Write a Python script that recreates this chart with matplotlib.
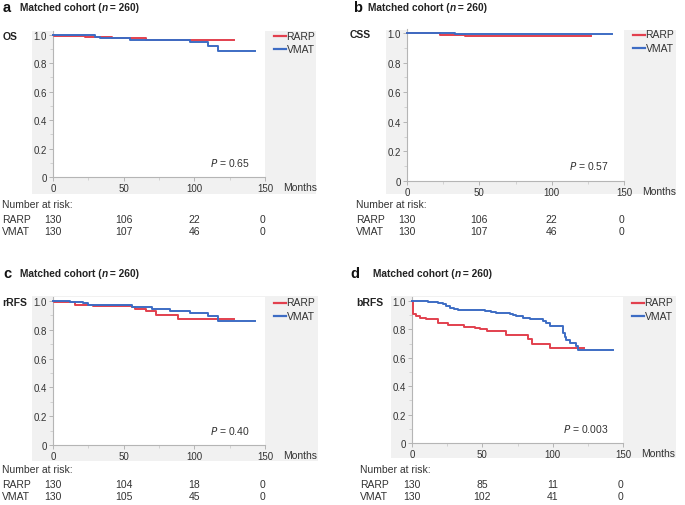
import matplotlib
matplotlib.use("Agg")
import matplotlib.pyplot as plt
from matplotlib.patches import Rectangle
import matplotlib.transforms as mtransforms

plt.rcParams['font.family'] = ['Liberation Sans', 'DejaVu Sans']

W, H = 685, 506
RED = '#e2404e'
BLUE = '#3d6cc4'
TXT = '#333333'

# ---------------- data ----------------
panel_letters = ['a', 'b', 'c', 'd']
endpoints = ['OS', 'CSS', 'rRFS', 'bRFS']
p_values = ['0.65', '0.57', '0.40', '0.003']
groups = ['RARP', 'VMAT']
x_ticks = [0, 50, 100, 150]
y_ticks = [0, 0.2, 0.4, 0.6, 0.8, 1.0]
y_tick_labels = ['0', '0.2', '0.4', '0.6', '0.8', '1.0']

os_rarp_t = [0, 1, 22.6, 41.5, 66, 128]
os_rarp_s = [1.0, 0.992, 0.984, 0.976, 0.965, 0.965]
os_vmat_t = [0, 25, 30, 33, 54.5, 97, 109.5, 116.5, 143]
os_vmat_s = [1.0, 0.995, 0.985, 0.975, 0.965, 0.95, 0.92, 0.885, 0.885]

css_rarp_t = [0, 22.6, 40, 127]
css_rarp_s = [1.0, 0.987, 0.98, 0.98]
css_vmat_t = [0, 33, 142]
css_vmat_s = [1.0, 0.993, 0.993]

rrfs_rarp_t = [0, 1, 15.5, 28, 55.7, 58, 66, 73, 88.5, 128]
rrfs_rarp_s = [1.0, 0.99, 0.97, 0.962, 0.956, 0.943, 0.929, 0.90, 0.876, 0.876]
rrfs_vmat_t = [0, 12, 21.5, 25, 55.7, 70, 83, 97, 109.5, 116.5, 143]
rrfs_vmat_s = [1.0, 0.993, 0.984, 0.97, 0.96, 0.947, 0.933, 0.917, 0.897, 0.86, 0.86]

brfs_rarp_t = [0, 0.8, 3, 6, 10, 18.5, 25.6, 37, 44.5, 48, 53, 67, 82.5, 85, 98, 122]
brfs_rarp_s = [1.0, 0.906, 0.894, 0.882, 0.871, 0.842, 0.828, 0.819, 0.812, 0.805,
               0.788, 0.758, 0.73, 0.70, 0.668, 0.668]
brfs_vmat_t = [0, 11.4, 18.5, 22, 24.4, 26.8, 30, 32.7, 51.7, 56.4, 60, 69.4, 71.8, 74,
               79, 83.6, 93, 95.5, 98, 107.3, 108.5, 109.7, 112, 116.8, 118, 143]
brfs_vmat_s = [1.0, 0.993, 0.984, 0.976, 0.965, 0.953, 0.946, 0.936, 0.927, 0.922, 0.918,
               0.91, 0.90, 0.894, 0.882, 0.87, 0.86, 0.842, 0.824, 0.776, 0.748, 0.725,
               0.706, 0.682, 0.654, 0.654]

risk_os_rarp = [130, 106, 22, 0]
risk_os_vmat = [130, 107, 46, 0]
risk_css_rarp = [130, 106, 22, 0]
risk_css_vmat = [130, 107, 46, 0]
risk_rrfs_rarp = [130, 104, 18, 0]
risk_rrfs_vmat = [130, 105, 45, 0]
risk_brfs_rarp = [130, 85, 11, 0]
risk_brfs_vmat = [130, 102, 41, 0]

curves = [
    ((os_rarp_t, os_rarp_s), (os_vmat_t, os_vmat_s)),
    ((css_rarp_t, css_rarp_s), (css_vmat_t, css_vmat_s)),
    ((rrfs_rarp_t, rrfs_rarp_s), (rrfs_vmat_t, rrfs_vmat_s)),
    ((brfs_rarp_t, brfs_rarp_s), (brfs_vmat_t, brfs_vmat_s)),
]
risks = [
    (risk_os_rarp, risk_os_vmat),
    (risk_css_rarp, risk_css_vmat),
    (risk_rrfs_rarp, risk_rrfs_vmat),
    (risk_brfs_rarp, risk_brfs_vmat),
]

# ---------------- layout (pixels) ----------------
ax_px = [(53, 265, 178, 35.7), (407, 624, 182, 34), (53, 265, 446, 302), (412, 623, 444, 302)]
bg_px = [(32, 316, 32, 195), (386, 676, 31, 195), (32, 318, 297, 462), (391, 676, 297, 459)]
lab_px = [(3, 20, 8, 3, 2, 205), (353, 368, 8, 350, 356, 205),
          (3, 20, 274, 2, 2, 470), (350, 373, 274, 356, 360, 470)]

fig = plt.figure(figsize=(W / 100, H / 100), dpi=100)
fig.patch.set_facecolor('white')


def fx(x):
    return x / W


def fy(y):
    return 1 - y / H


YTOP = 1.025
TFS = 7.3

for i in range(4):
    l, r, y0, y1 = ax_px[i]
    ppu = y0 - y1
    top = y0 - YTOP * ppu
    bx0, bx1, by0, by1 = bg_px[i]
    fig.patches.append(Rectangle((fx(bx0), fy(by1)), fx(bx1) - fx(bx0), fy(by0) - fy(by1),
                                 transform=fig.transFigure, facecolor='#f1f1f1',
                                 edgecolor='none', zorder=0))
    ax = fig.add_axes([fx(l), fy(y0), fx(r) - fx(l), fy(top) - fy(y0)])
    ax.set_zorder(1)
    ax.set_facecolor('white')
    ax.set_xlim(0, 150)
    ax.set_ylim(0, YTOP)
    for s in ['top', 'right']:
        ax.spines[s].set_visible(False)
    for s in ['left', 'bottom']:
        ax.spines[s].set_color('#b5b5b5')
        ax.spines[s].set_linewidth(0.8)
    ax.set_xticks(x_ticks)
    ax.set_xticklabels([str(v) for v in x_ticks])
    ax.set_yticks(y_ticks)
    ax.set_yticklabels(y_tick_labels)
    ax.set_xticks([25, 75, 125], minor=True)
    ax.set_yticks([0.1, 0.3, 0.5, 0.7, 0.9], minor=True)
    ax.tick_params(axis='both', which='major', labelsize=7, colors='#b5b5b5',
                   labelcolor=TXT, length=3, width=0.7, pad=1.5)
    ax.tick_params(axis='both', which='minor', colors='#cccccc', length=2, width=0.6)

    (rt, rs), (vt, vs) = curves[i]
    ax.step(rt, rs, where='post', color=RED, lw=1.4, label=groups[0], clip_on=False, zorder=3)
    ax.step(vt, vs, where='post', color=BLUE, lw=1.4, label=groups[1], clip_on=False, zorder=4)

    for k, (g, c) in enumerate(zip(groups, [RED, BLUE])):
        ly = y1 + 1.5 + k * 13
        fig.add_artist(plt.Line2D([fx(r + 9), fx(r + 21)], [fy(ly), fy(ly)],
                                  transform=fig.transFigure, color=c, lw=1.6))
        fig.text(fx(r + 21.5), fy(ly), g, fontsize=7.5, color=TXT, va='center', ha='left')

    fig.text(fx(r + 18), fy(y0 + 10), 'Months', fontsize=7.5, color=TXT, va='center', ha='left')

    ax.text(0.93, 0.105, r'$\it{P}$ = ' + p_values[i], transform=ax.transAxes,
            fontsize=7.5, color=TXT, ha='right', va='center')

    lx, tx, ty, ex, rx, ry = lab_px[i]
    fig.text(fx(lx), fy(ty), panel_letters[i], fontsize=10.5, fontweight='bold',
             color='#111111', va='center', ha='left')
    t1 = fig.text(fx(tx), fy(ty), 'Matched cohort (', fontsize=TFS, fontweight='bold',
                  color='#222222', va='center', ha='left')
    fig.canvas.draw()
    bb = t1.get_window_extent()
    nx = bb.x1 / fig.dpi * 100
    fig.text(fx(nx), fy(ty), 'n', fontsize=TFS, fontweight='bold', style='italic',
             color='#222222', va='center', ha='left')
    fig.text(fx(nx + 5), fy(ty), ' = 260)', fontsize=TFS, fontweight='bold',
             color='#222222', va='center', ha='left')
    fig.text(fx(ex), fy(y1 + 1), endpoints[i], fontsize=7.5, fontweight='bold',
             color='#222222', va='center', ha='left')

    fig.text(fx(rx), fy(ry), 'Number at risk:', fontsize=7.5, color=TXT, va='center', ha='left')
    trans = mtransforms.blended_transform_factory(ax.transData, fig.transFigure)
    for k, g in enumerate(groups):
        yy = ry + 15 + k * 12
        fig.text(fx(rx), fy(yy), g, fontsize=7.5, color=TXT, va='center', ha='left')
        for xv, n in zip(x_ticks, risks[i][k]):
            ax.text(xv - (2 if xv == 150 else 0), fy(yy), str(n), transform=trans,
                    fontsize=7.5, color=TXT, va='center', ha='center', clip_on=False)

fig.savefig('out.png', dpi=100)
